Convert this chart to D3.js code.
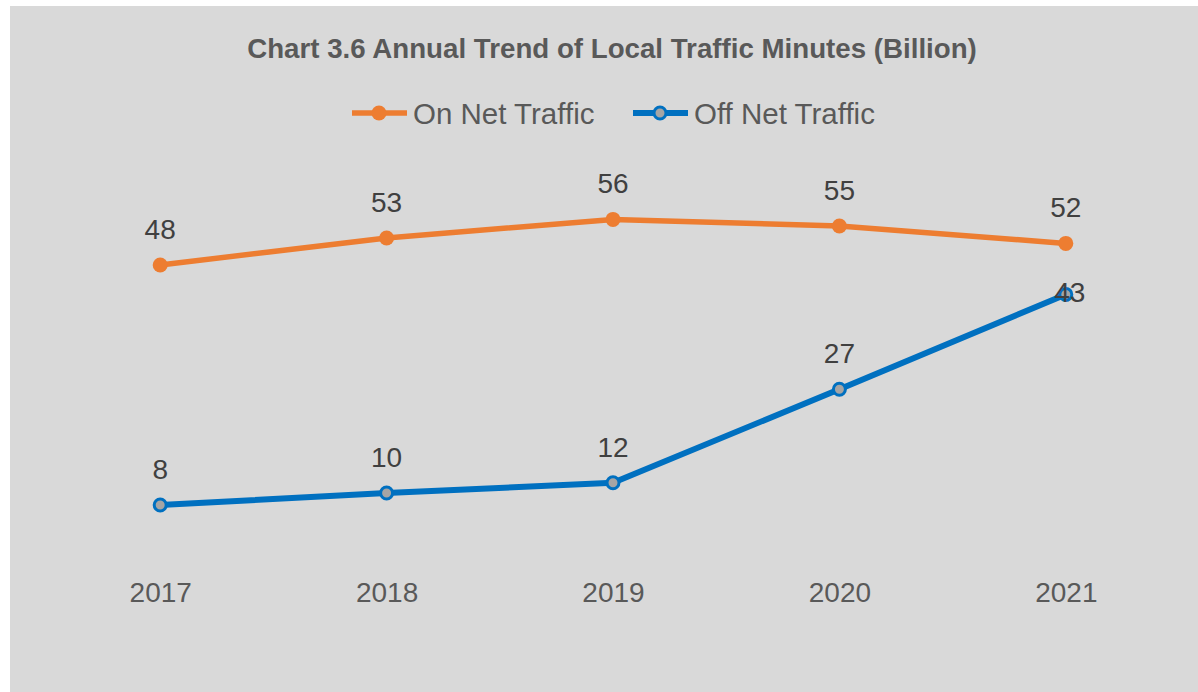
<!DOCTYPE html>
<html>
<head>
<meta charset="utf-8">
<script src="https://cdn.jsdelivr.net/npm/d3@7"></script>
<style>
  body { margin: 0; background: #ffffff; }
  svg { display: block; }
</style>
</head>
<body>
<script>
// data
const years = ["2017", "2018", "2019", "2020", "2021"];
const onNet = [48.0, 52.5, 55.6, 54.51, 51.6];
const offNet = [8.0, 10.0, 11.7, 27.3, 43.1];
const seriesNames = ["On Net Traffic", "Off Net Traffic"];
const title = "Chart 3.6 Annual Trend of Local Traffic Minutes (Billion)";

const width = 1198;
const height = 692;
const font = "'Liberation Sans', Arial, sans-serif";

const svg = d3.select("body")
    .append("svg")
    .attr("width", width)
    .attr("height", height);

// chart area background
svg.append("rect")
    .attr("x", 10)
    .attr("y", 6)
    .attr("width", width - 10)
    .attr("height", height - 6)
    .attr("fill", "#d9d9d9");

// title
svg.append("text")
    .attr("x", 612)
    .attr("y", 58)
    .attr("text-anchor", "middle")
    .attr("font-family", font)
    .attr("font-weight", "bold")
    .attr("font-size", 27.7)
    .attr("fill", "#595959")
    .text(title);

// scales
const x = d3.scalePoint()
    .domain(years)
    .range([47, 1179])
    .padding(0.5);

const y = d3.scaleLinear()
    .domain([0, 60])
    .range([553, 193]);

const series = [
    { name: seriesNames[0], values: onNet, color: "#ed7d31", fill: "#ed7d31" },
    { name: seriesNames[1], values: offNet, color: "#0070c0", fill: "#a5a5a5" }
];

// x axis, labels only
const xAxis = d3.axisBottom(x).tickSize(0).tickPadding(0);
const gx = svg.append("g")
    .attr("transform", "translate(0,582)")
    .call(xAxis);
gx.select(".domain").remove();
gx.selectAll("text")
    .attr("font-family", font)
    .attr("font-size", 28)
    .attr("fill", "#595959")
    .attr("dy", "0.71em");

const line = d3.line()
    .x((d, i) => x(years[i]))
    .y(d => y(d));

series.forEach((s, si) => {
    svg.append("path")
        .datum(s.values)
        .attr("fill", "none")
        .attr("stroke", s.color)
        .attr("stroke-width", si === 0 ? 5.5 : 6)
        .attr("stroke-linejoin", "round")
        .attr("d", line);

    svg.selectAll(".pt" + si)
        .data(s.values)
        .enter()
        .append("circle")
        .attr("cx", (d, i) => x(years[i]))
        .attr("cy", d => y(d))
        .attr("r", si === 0 ? 7.5 : 6)
        .attr("fill", s.fill)
        .attr("stroke", s.color)
        .attr("stroke-width", si === 0 ? 0 : 3);

    // data labels; the last off-net label sits on its point like in the original
    svg.selectAll(".lbl" + si)
        .data(s.values)
        .enter()
        .append("text")
        .attr("x", (d, i) => x(years[i]) + (si === 1 && i === years.length - 1 ? 4 : 0))
        .attr("y", (d, i) => y(d) + (si === 1 && i === years.length - 1 ? -2 : -36))
        .attr("dy", "0.36em")
        .attr("text-anchor", "middle")
        .attr("font-family", font)
        .attr("font-size", 28)
        .attr("fill", "#404040")
        .text(d => d3.format(".0f")(d));
});

// legend
const legendPos = [352, 633];
series.forEach((s, si) => {
    const g = svg.append("g").attr("transform", `translate(${legendPos[si]},113)`);
    g.append("line")
        .attr("x1", 0).attr("x2", 55)
        .attr("stroke", s.color)
        .attr("stroke-width", si === 0 ? 5.5 : 6);
    g.append("circle")
        .attr("cx", 27)
        .attr("r", si === 0 ? 7.5 : 6)
        .attr("fill", s.fill)
        .attr("stroke", s.color)
        .attr("stroke-width", si === 0 ? 0 : 3);
    g.append("text")
        .attr("x", 61)
        .attr("dy", "0.36em")
        .attr("font-family", font)
        .attr("font-size", 29.5)
        .attr("fill", "#595959")
        .text(s.name);
});
</script>
</body>
</html>
